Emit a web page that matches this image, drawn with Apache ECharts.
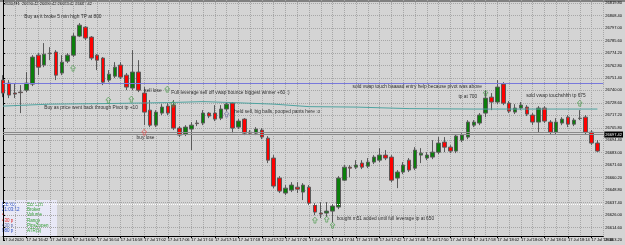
<!DOCTYPE html>
<html>
<head>
<meta charset="utf-8">
<script src="https://cdn.jsdelivr.net/npm/echarts@6/dist/echarts.min.js"></script>
<style>
html, body { margin: 0; padding: 0; background: #d4d4d4; }
#chart { width: 625px; height: 245px; }
</style>
</head>
<body>
<div id="chart"></div>
<script>
// one bar per minute, 17 Jul
var times = ['16:38','16:39','16:40','16:41','16:42','16:43','16:44','16:45','16:46','16:47','16:48','16:49','16:50','16:51','16:52','16:53','16:54','16:55','16:56','16:57','16:58','16:59',
  '17:00','17:01','17:02','17:03','17:04','17:05','17:06','17:07','17:08','17:09','17:10','17:11','17:12','17:13','17:14','17:15','17:16','17:17','17:18','17:19',
  '17:20','17:21','17:22','17:23','17:24','17:25','17:26','17:27','17:28','17:29','17:30','17:31','17:32','17:33','17:34','17:35','17:36','17:37','17:38','17:39',
  '17:40','17:41','17:42','17:43','17:44','17:45','17:46','17:47','17:48','17:49','17:50','17:51','17:52','17:53','17:54','17:55','17:56','17:57','17:58','17:59',
  '18:00','18:01','18:02','18:03','18:04','18:05','18:06','18:07','18:08','18:09','18:10','18:11','18:12','18:13','18:14','18:15','18:16','18:17','18:18','18:19','18:20']

var opens = [26749.4,26746.6,26737.5,26738.4,26740.2,26745.7,26772.2,26763.1,26774.0,26775.0,
  26755.8,26766.7,26772.2,26789.6,26797.8,26788.7,26772.2,26769.5,26749.4,26753.0,
  26763.1,26753.9,26742.1,26756.7,26737.5,26721.9,26708.2,26719.2,26725.6,26726.5,
  26705.5,26700.0,26704.6,26710.1,26710.1,26719.2,26719.2,26714.6,26722.9,26728.3,
  26706.4,26713.7,26701.8,26700.9,26703.7,26696.3,26678.1,26659.8,26646.1,26648.8,
  26651.5,26647.0,26651.5,26635.1,26627.8,26627.8,26629.6,26633.3,26657.9,26669.8,
  26669.8,26673.5,26670.7,26674.4,26676.2,26680.8,26679.0,26659.8,26665.3,26676.2,
  26668.9,26680.8,26678.1,26679.0,26683.5,26692.7,26688.1,26684.5,26694.5,26697.3,
  26708.2,26710.1,26719.2,26733.8,26729.3,26745.7,26728.3,26720.1,26723.8,26724.7,
  26717.4,26711.0,26723.8,26711.0,26701.8,26710.1,26715.5,26709.1,26714.6,26715.5,
  26701.8,26691.8]
var closes = [26737.5,26735.7,26736.6,26737.9,26746.6,26770.4,26761.2,26773.1,26773.6,26753.9,
  26765.8,26772.2,26789.6,26799.6,26787.8,26769.5,26767.6,26747.5,26754.8,26761.2,
  26752.1,26743.0,26756.7,26740.2,26720.1,26708.2,26720.1,26724.7,26719.2,26705.5,
  26699.1,26706.4,26708.2,26709.6,26719.2,26716.5,26713.7,26722.9,26727.4,26705.5,
  26711.9,26700.9,26700.9,26704.6,26697.3,26676.2,26652.5,26647.9,26650.6,26653.4,
  26649.7,26653.4,26636.9,26628.7,26626.9,26629.6,26634.2,26659.8,26669.8,26668.9,
  26671.7,26669.8,26674.4,26679.0,26680.8,26678.1,26657.9,26665.3,26671.7,26667.1,
  26685.4,26682.6,26680.8,26683.5,26691.8,26688.1,26684.5,26698.2,26699.1,26711.0,
  26711.0,26717.4,26732.9,26729.3,26743.0,26728.3,26721.0,26723.8,26726.5,26718.3,
  26711.0,26723.8,26711.9,26701.8,26711.0,26713.7,26709.1,26712.8,26714.2,26701.8,
  26691.8,26684.5]
var lows = [26733.8,26732.9,26732.9,26719.2,26738.4,26743.9,26753.9,26761.2,26767.6,26749.4,
  26753.9,26764.9,26770.4,26788.7,26785.9,26767.6,26758.5,26744.8,26747.5,26751.2,
  26750.3,26740.2,26740.2,26738.4,26708.2,26706.4,26706.4,26717.4,26717.4,26703.7,
  26697.3,26698.2,26685.4,26707.3,26708.2,26714.6,26711.9,26712.8,26721.0,26700.9,
  26704.6,26699.1,26699.1,26699.1,26695.4,26673.5,26650.6,26646.1,26644.2,26647.0,
  26646.1,26639.7,26635.1,26625.9,26623.2,26624.1,26619.5,26631.4,26657.0,26660.7,
  26668.0,26668.0,26668.9,26672.6,26674.4,26676.2,26656.1,26650.6,26663.4,26665.3,
  26667.1,26673.5,26676.2,26677.1,26681.7,26683.5,26682.6,26682.6,26692.7,26695.4,
  26706.4,26708.2,26715.5,26721.9,26727.4,26726.5,26719.2,26718.3,26721.9,26716.5,
  26708.2,26701.8,26710.1,26700.0,26700.0,26708.2,26706.4,26707.3,26712.8,26700.0,
  26689.9,26683.5]
var highs = [26753.9,26749.4,26746.6,26744.8,26756.7,26772.2,26774.0,26783.2,26779.5,26776.8,
  26772.2,26774.0,26792.3,26801.5,26798.7,26789.6,26773.1,26770.4,26758.5,26765.8,
  26765.8,26755.8,26776.8,26767.6,26743.0,26731.1,26721.9,26727.4,26728.3,26731.1,
  26707.3,26708.2,26711.0,26712.8,26721.9,26720.1,26726.5,26726.5,26729.3,26729.3,
  26713.7,26714.6,26703.7,26706.4,26705.5,26698.2,26680.8,26661.6,26653.4,26656.1,
  26656.1,26655.2,26653.4,26636.9,26637.8,26637.8,26636.0,26661.6,26671.7,26671.7,
  26676.2,26676.2,26678.1,26680.8,26687.2,26685.4,26680.8,26667.1,26674.4,26678.1,
  26688.1,26687.2,26683.5,26694.5,26697.3,26697.3,26689.9,26700.0,26700.9,26712.8,
  26712.8,26719.2,26740.2,26737.5,26749.4,26747.5,26730.2,26727.4,26729.3,26726.5,
  26719.2,26725.6,26725.6,26712.8,26714.6,26715.5,26717.4,26714.6,26721.9,26717.4,
  26703.7,26694.5]

// vwap read at a few bars, joined by straight segments
var vwapBars = [0, 8, 17, 28, 34, 39, 46, 52, 60, 69, 80, 101]
var vwapVals = [26725.6, 26727.4, 26727.9, 26728.8, 26729.7, 26728.8, 26727.4, 26725.1, 26724.7, 26723.3, 26722.9, 26722.9]

var pivotLine = 26746.2
var greyLines = [26701.8, 26699.6]
var lowLine = 26636.0
var priceBox = '26697.42'

// right price scale: first label and step
var scaleBase = 26603.2
var scaleStep = 11.4

// notes: bar position, price, text
var noteBars = [3.6, 7.0, 24.0, 28.6, 22.7, 39.3, 59.4, 77.4, 88.9, 56.7]
var notePrices = [26807.0, 26723.8, 26739.3, 26737.5, 26696.3, 26720.1, 26743.0, 26733.8, 26734.7, 26622.3]
var noteTexts = ['Buy as it broke 5 min high TP at 800',
  'Buy as price went back through Pivot tp +10',
  'sell lose',
  'Full leverage sell off vwap bounce biggest winner +60 :)',
  'buy lose',
  'held sell, big balls, pooped pants here :o',
  'sold vwap touch baaaad entry help because pivot was above',
  'tp at 700',
  'sold vwap touchshhh tp 675',
  'bought m51 added until full leverage tp at 650']

var greenArrows = [[11.9, 26760.3], [17.9, 26731.1], [21.8, 26732.0], [27.9, 26741.1], [28.9, 26727.4],
  [82.0, 26737.5], [98.0, 26728.3], [53.0, 26621.4], [55.0, 26622.3], [56.0, 26616.8]]
var redArrows = [[24.0, 26701.8]]
var greyArrows = [[38.0, 26718.3]]

var infoValues = ['[08:40]', '21:03:12', '4', '430 p', '430 p', '980 p']
var infoNames = ['Bar Left', 'Broker', 'Volume', 'Range', 'PipsZopen', 'ATR(5)']
var infoColors = ['#2b4fc4', '#2b4fc4', '#e02020', '#e02020', '#5a6aa8', '#2b4fc4']

var title = 'US30,M1  26690.42 26690.42 26683.42 26687.42'

var chart = echarts.init(document.getElementById('chart'))
var yv = function (p) { return +(p - scaleBase).toFixed(2) }

var candles = opens.map(function (o, i) {
  return [yv(o), yv(closes[i]), yv(lows[i]), yv(highs[i])]
})
var vwap = times.map(function () { return null })
vwapBars.forEach(function (b, k) { vwap[b] = yv(vwapVals[k]) })

var arrowPath = 'path://M5,0 L10,5 L7,5 L7,10 L3,10 L3,5 L0,5 Z'
var arrowSeries = function (pts, col) {
  return {
    type: 'scatter', xAxisIndex: 1, silent: true, z: 5,
    symbol: arrowPath, symbolSize: [5, 6],
    itemStyle: { color: 'rgba(0,0,0,0)', borderColor: col, borderWidth: 0.8 },
    data: pts.map(function (p) { return [p[0], yv(p[1])] })
  }
}

var infoGraphic = [{ type: 'rect', shape: { x: 0, y: 200, width: 57, height: 36 }, style: { fill: '#e8e8f6' } }]
infoValues.forEach(function (v, k) {
  infoGraphic.push({ type: 'text', x: 2, y: 202 + k * 5.3, style: { text: v, fill: infoColors[k], font: '4.5px "Liberation Sans"' } })
  infoGraphic.push({ type: 'text', x: 27, y: 202 + k * 5.3, style: { text: infoNames[k], fill: '#2c9a2c', font: '4.5px "Liberation Sans"' } })
})

var option = {
  backgroundColor: '#d4d4d4',
  animation: false,
  grid: { left: 0, right: 19, top: 0, height: 240 },
  xAxis: [{
    type: 'category', data: times, boundaryGap: false, offset: -4,
    axisLine: { lineStyle: { color: '#000', width: 1 } },
    axisTick: { show: true, interval: 3, length: 2, lineStyle: { color: '#000' } },
    axisLabel: {
      interval: 3, align: 'left', margin: 2, fontSize: 4, color: '#000', fontFamily: 'Liberation Sans',
      formatter: function (v, i) { return i === 0 ? '17 Jul 2020' : '17 Jul ' + v }
    },
    splitLine: { show: true, interval: 1, lineStyle: { type: 'dotted', color: '#a6a6a6', width: 1 } }
  }, {
    type: 'value', min: 0, max: times.length - 1, show: false
  }],
  yAxis: {
    type: 'value', position: 'right', min: 0, max: 219.4, interval: scaleStep,
    axisLine: { show: true, lineStyle: { color: '#000' } },
    axisTick: { show: true, length: 2, lineStyle: { color: '#000' } },
    axisLabel: {
      margin: 2, fontSize: 4, color: '#000', fontFamily: 'Liberation Sans', showMaxLabel: false,
      formatter: function (v) { return (v + scaleBase).toFixed(2) }
    },
    splitLine: { show: true, showMinLine: false, showMaxLine: false, lineStyle: { type: 'dotted', color: '#a6a6a6', width: 1 } }
  },
  graphic: [
    { type: 'rect', shape: { x: 0, y: 0, width: 625, height: 2 }, style: { fill: '#808080' } },
    { type: 'text', x: 3, y: 1.5, style: { text: title, fill: '#000', font: '4px "Liberation Sans"' } }
  ].concat(infoGraphic),
  series: [{
    type: 'candlestick', data: candles, barWidth: 4,
    itemStyle: { color: '#0a7f0a', color0: '#ff0000', borderColor: '#5a5a5a', borderColor0: '#5a5a5a', borderWidth: 1 },
    markLine: {
      silent: true, symbol: 'none', animation: false,
      data: [
        { yAxis: yv(pivotLine), lineStyle: { color: '#7878dc', width: 1.2, type: 'solid' }, label: { show: false } },
        { yAxis: yv(greyLines[0]), lineStyle: { color: '#8a8a8a', width: 1, type: 'solid' }, label: { show: false } },
        { yAxis: yv(greyLines[1]), lineStyle: { color: '#8a8a8a', width: 1, type: 'solid' },
          label: { show: true, position: 'end', distance: 1, formatter: priceBox, color: '#fff', backgroundColor: '#000', fontSize: 4, padding: [1, 1] } },
        { yAxis: yv(lowLine), lineStyle: { color: '#ffffff', width: 1, type: 'dotted' }, label: { show: false } }
      ]
    }
  }, {
    type: 'line', data: vwap, connectNulls: true, symbol: 'none', silent: true,
    lineStyle: { color: '#4fa3a0', width: 1 }
  }, {
    type: 'scatter', xAxisIndex: 1, silent: true, symbolSize: 0, z: 6,
    label: {
      show: true, position: 'right', distance: 0, fontSize: 4.8, color: '#000', fontFamily: 'Liberation Sans',
      formatter: function (p) { return p.data[2] }
    },
    data: noteTexts.map(function (t, k) { return [noteBars[k], yv(notePrices[k]), t] })
  },
  arrowSeries(greenArrows, '#4a9a4a'),
  arrowSeries(redArrows, '#e05050'),
  arrowSeries(greyArrows, '#7070a0')]
}
chart.setOption(option)
</script>
</body>
</html>
